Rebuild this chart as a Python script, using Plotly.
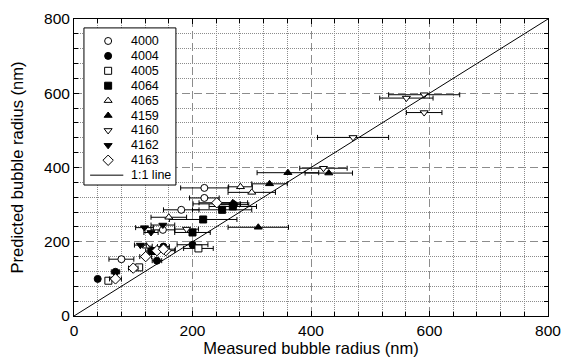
import plotly.graph_objects as go

# Measured vs predicted bubble radius (nm) per sample, with measurement error (x)
s4000_x = [220, 220, 181, 150, 80]
s4000_y = [345, 318, 286, 232, 153]
s4000_e = [40, 25, 30, 20, 21]

s4004_x = [40, 70, 140, 151, 200, 270]
s4004_y = [100, 119, 149, 187, 192, 300]
s4004_e = [0, 7, 8, 10, 26, 25]

s4005_x = [58, 110, 210]
s4005_y = [95, 131, 182]
s4005_e = [0, 5, 25]

s4064_x = [250, 218, 200, 131, 268]
s4064_y = [286, 260, 225, 175, 295]
s4064_e = [50, 57, 30, 10, 40]

s4065_x = [281, 300, 160, 122]
s4065_y = [348, 333, 266, 188]
s4065_e = [20, 40, 30, 10]

s4159_x = [361, 330, 311, 430, 268]
s4159_y = [386, 356, 239, 385, 305]
s4159_e = [52, 30, 51, 40, 25]

s4160_x = [591, 471, 421, 561, 591, 241, 190]
s4160_y = [548, 481, 398, 587, 596, 302, 234]
s4160_e = [30, 60, 40, 45, 60, 40, 20]

s4162_x = [119, 130, 150, 112]
s4162_y = [238, 225, 245, 191]
s4162_e = [15, 12, 20, 10]

s4163_x = [241, 140, 121, 100, 70, 155, 151]
s4163_y = [305, 176, 160, 129, 100, 176, 180]
s4163_e = [30, 15, 10, 8, 10, 15, 20]

line_x = [0, 800]
line_y = [0, 800]

AXIS_MAX = 800

series = [
    ("4000", s4000_x, s4000_y, s4000_e, "circle-open"),
    ("4004", s4004_x, s4004_y, s4004_e, "circle"),
    ("4005", s4005_x, s4005_y, s4005_e, "square-open"),
    ("4064", s4064_x, s4064_y, s4064_e, "square"),
    ("4065", s4065_x, s4065_y, s4065_e, "triangle-up-open"),
    ("4159", s4159_x, s4159_y, s4159_e, "triangle-up"),
    ("4160", s4160_x, s4160_y, s4160_e, "triangle-down-open"),
    ("4162", s4162_x, s4162_y, s4162_e, "triangle-down"),
    ("4163", s4163_x, s4163_y, s4163_e, "diamond-open"),
]


def marker_style(sym, size):
    is_open = sym.endswith("-open")
    return dict(
        symbol=sym.replace("-open", ""),
        size=size + (1 if "diamond" in sym else 0),
        color="white" if is_open else "black",
        line=dict(color="black", width=1),
    )


fig = go.Figure()
for name, xs, ys, es, sym in series:
    fig.add_trace(go.Scatter(
        x=xs, y=ys, mode="markers", name=name, showlegend=False,
        error_x=dict(type="data", array=es, color="black", thickness=1, width=2.5),
        marker=marker_style(sym, 7),
    ))

fig.add_trace(go.Scatter(
    x=line_x, y=line_y, mode="lines", name="1:1 line", showlegend=False,
    line=dict(color="black", width=1),
))

# ---- compact legend box, laid out as fractions of the plot area ----
def f(v):
    return v * AXIS_MAX

leg_left, leg_right = 0.021, 0.215
leg_top, leg_bottom = 0.970, 0.441
row0, row_step = 0.926, 0.0502
sym_x, text_x = 0.072, 0.116
line_x0, line_x1 = 0.034, 0.104
rows_y = [row0 - i * row_step for i in range(len(series) + 1)]

fig.add_shape(type="rect", xref="x", yref="y",
              x0=f(leg_left), x1=f(leg_right), y0=f(leg_bottom), y1=f(leg_top),
              fillcolor="white", line=dict(color="black", width=1),
              layer="between")

for i, (name, _, _, _, sym) in enumerate(series):
    fig.add_trace(go.Scatter(
        x=[f(sym_x)], y=[f(rows_y[i])],
        mode="markers", marker=marker_style(sym, 7),
        showlegend=False, hoverinfo="skip",
    ))
    fig.add_annotation(x=f(text_x), y=f(rows_y[i]), xref="x", yref="y",
                       text=name, showarrow=False, xanchor="left", yanchor="middle",
                       font=dict(size=12.5, color="black"))

fig.add_trace(go.Scatter(
    x=[f(line_x0), f(line_x1)], y=[f(rows_y[-1])] * 2,
    mode="lines", line=dict(color="black", width=1),
    showlegend=False, hoverinfo="skip",
))
fig.add_annotation(x=f(text_x), y=f(rows_y[-1]), xref="x", yref="y",
                   text="1:1 line", showarrow=False, xanchor="left", yanchor="middle",
                   font=dict(size=12.5, color="black"))

axis_common = dict(
    range=[0, AXIS_MAX], dtick=200, tick0=0, automargin=False,
    showline=True, linecolor="black", linewidth=1, mirror="ticks",
    ticks="inside", ticklen=5, tickcolor="black",
    showgrid=True, gridcolor="#8c8c8c", gridwidth=1, griddash="8px,4px",
    zeroline=False,
    tickfont=dict(size=15.5, color="black"),
    minor=dict(dtick=40, ticks="inside", ticklen=4, tickcolor="black",
               showgrid=True, gridcolor="#8c8c8c", gridwidth=1, griddash="1px,1px"),
)

fig.update_xaxes(**axis_common,
                 title=dict(text="Measured bubble radius (nm)", standoff=0,
                            font=dict(size=16.5, color="black")))
fig.update_yaxes(**axis_common,
                 title=dict(text="Predicted bubble radius (nm)", standoff=16,
                            font=dict(size=16.5, color="black")))

fig.update_layout(
    width=580, height=358,
    margin=dict(l=74, r=32, t=19, b=42, autoexpand=False),
    paper_bgcolor="white", plot_bgcolor="white",
    font=dict(family="Liberation Sans, Arial, sans-serif", color="black"),
    showlegend=False,
)

fig.write_html("out.html")
